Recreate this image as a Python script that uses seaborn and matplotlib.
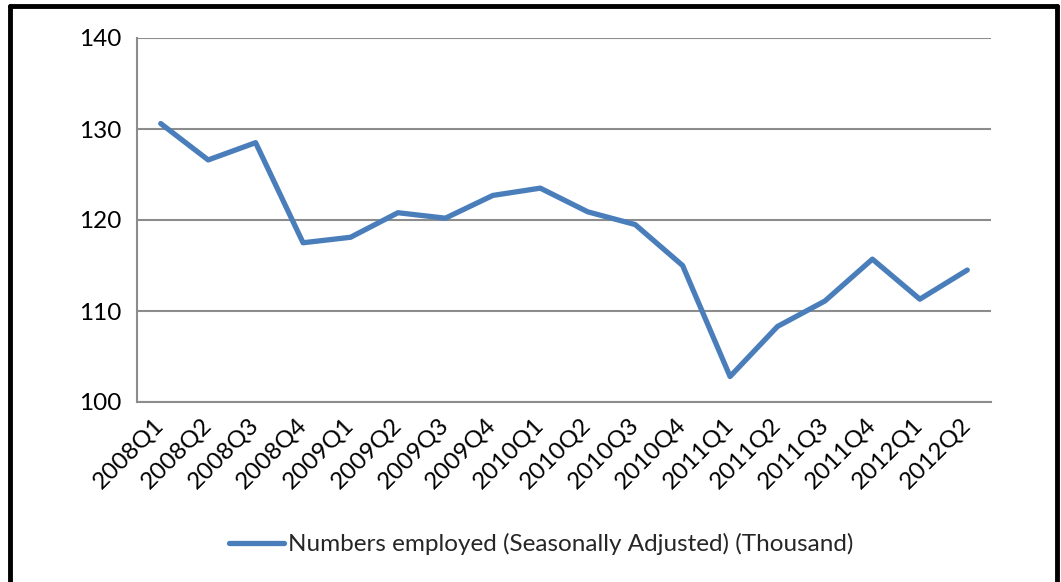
import numpy as np
import pandas as pd
import matplotlib
matplotlib.use("Agg")
import matplotlib.pyplot as plt
import seaborn as sns
from matplotlib.lines import Line2D

quarters = ["2008Q1", "2008Q2", "2008Q3", "2008Q4", "2009Q1", "2009Q2", "2009Q3", "2009Q4",
            "2010Q1", "2010Q2", "2010Q3", "2010Q4", "2011Q1", "2011Q2", "2011Q3", "2011Q4",
            "2012Q1", "2012Q2"]
employed = [130.6, 126.6, 128.5, 117.5, 118.1, 120.8, 120.2, 122.7,
            123.5, 120.9, 119.5, 115.0, 102.8, 108.3, 111.1, 115.7,
            111.3, 114.5]
series_name = "Numbers employed (Seasonally Adjusted) (Thousand)"

sns.set_style("white")
plt.rcParams['font.family'] = ['Lato', 'DejaVu Sans']

W, H = 1061, 582
fig = plt.figure(figsize=(W / 100, H / 100), dpi=100)
ax = fig.add_axes([137 / W, 1 - 402 / H, (991 - 137) / W, (402 - 38) / H])

df = pd.DataFrame({"idx": np.arange(len(quarters)), "val": employed})
line_color = "#4A7EBB"
sns.lineplot(data=df, x="idx", y="val", ax=ax, color=line_color, linewidth=3.8,
             solid_capstyle="round", solid_joinstyle="round", legend=False)

fs = 17.5
grid_c = "#8C8C8C"
ax.set_ylim(100, 140)
ax.set_xlim(-0.5, len(quarters) - 0.5)
ax.set_yticks([100, 110, 120, 130, 140])
ax.yaxis.grid(True, color=grid_c, linewidth=1.5)
ax.set_axisbelow(True)

ax.set_xticks(np.arange(len(quarters)))
ax.set_xticklabels(quarters, rotation=45, ha="right", va="center", rotation_mode="anchor")
ax.set_xticks(np.arange(-0.5, len(quarters), 1.0), minor=True)
ax.tick_params(axis="x", which="major", length=0, pad=14, labelsize=fs, colors="black")
ax.tick_params(axis="x", which="minor", length=6, width=1.5, color=grid_c, direction="out")
ax.tick_params(axis="y", length=6, width=1.5, color=grid_c, labelsize=fs, pad=5,
               direction="out", labelcolor="black")
ax.set_xlabel("")
ax.set_ylabel("")
for s in ["top", "right"]:
    ax.spines[s].set_visible(False)
for s in ["left", "bottom"]:
    ax.spines[s].set_color(grid_c)
    ax.spines[s].set_linewidth(1.5)

handle = Line2D([0], [0], color=line_color, linewidth=3.8, solid_capstyle="round")
fig.legend([handle], [series_name], loc="center", bbox_to_anchor=(541 / W, 1 - 544 / H),
           frameon=False, fontsize=fs, handlelength=2.3, handletextpad=0.15)

# chart border (left, top, right)
bc = "black"
fig.add_artist(Line2D([10 / W, 10 / W], [0, 1 - 6 / H], color=bc, linewidth=3.5,
                      transform=fig.transFigure))
fig.add_artist(Line2D([10 / W, 1057 / W], [1 - 6 / H, 1 - 6 / H], color=bc, linewidth=3.5,
                      transform=fig.transFigure))
fig.add_artist(Line2D([1057 / W, 1057 / W], [0, 1 - 6 / H], color=bc, linewidth=3.5,
                      transform=fig.transFigure))

fig.savefig("out.png", dpi=100, facecolor="white")
